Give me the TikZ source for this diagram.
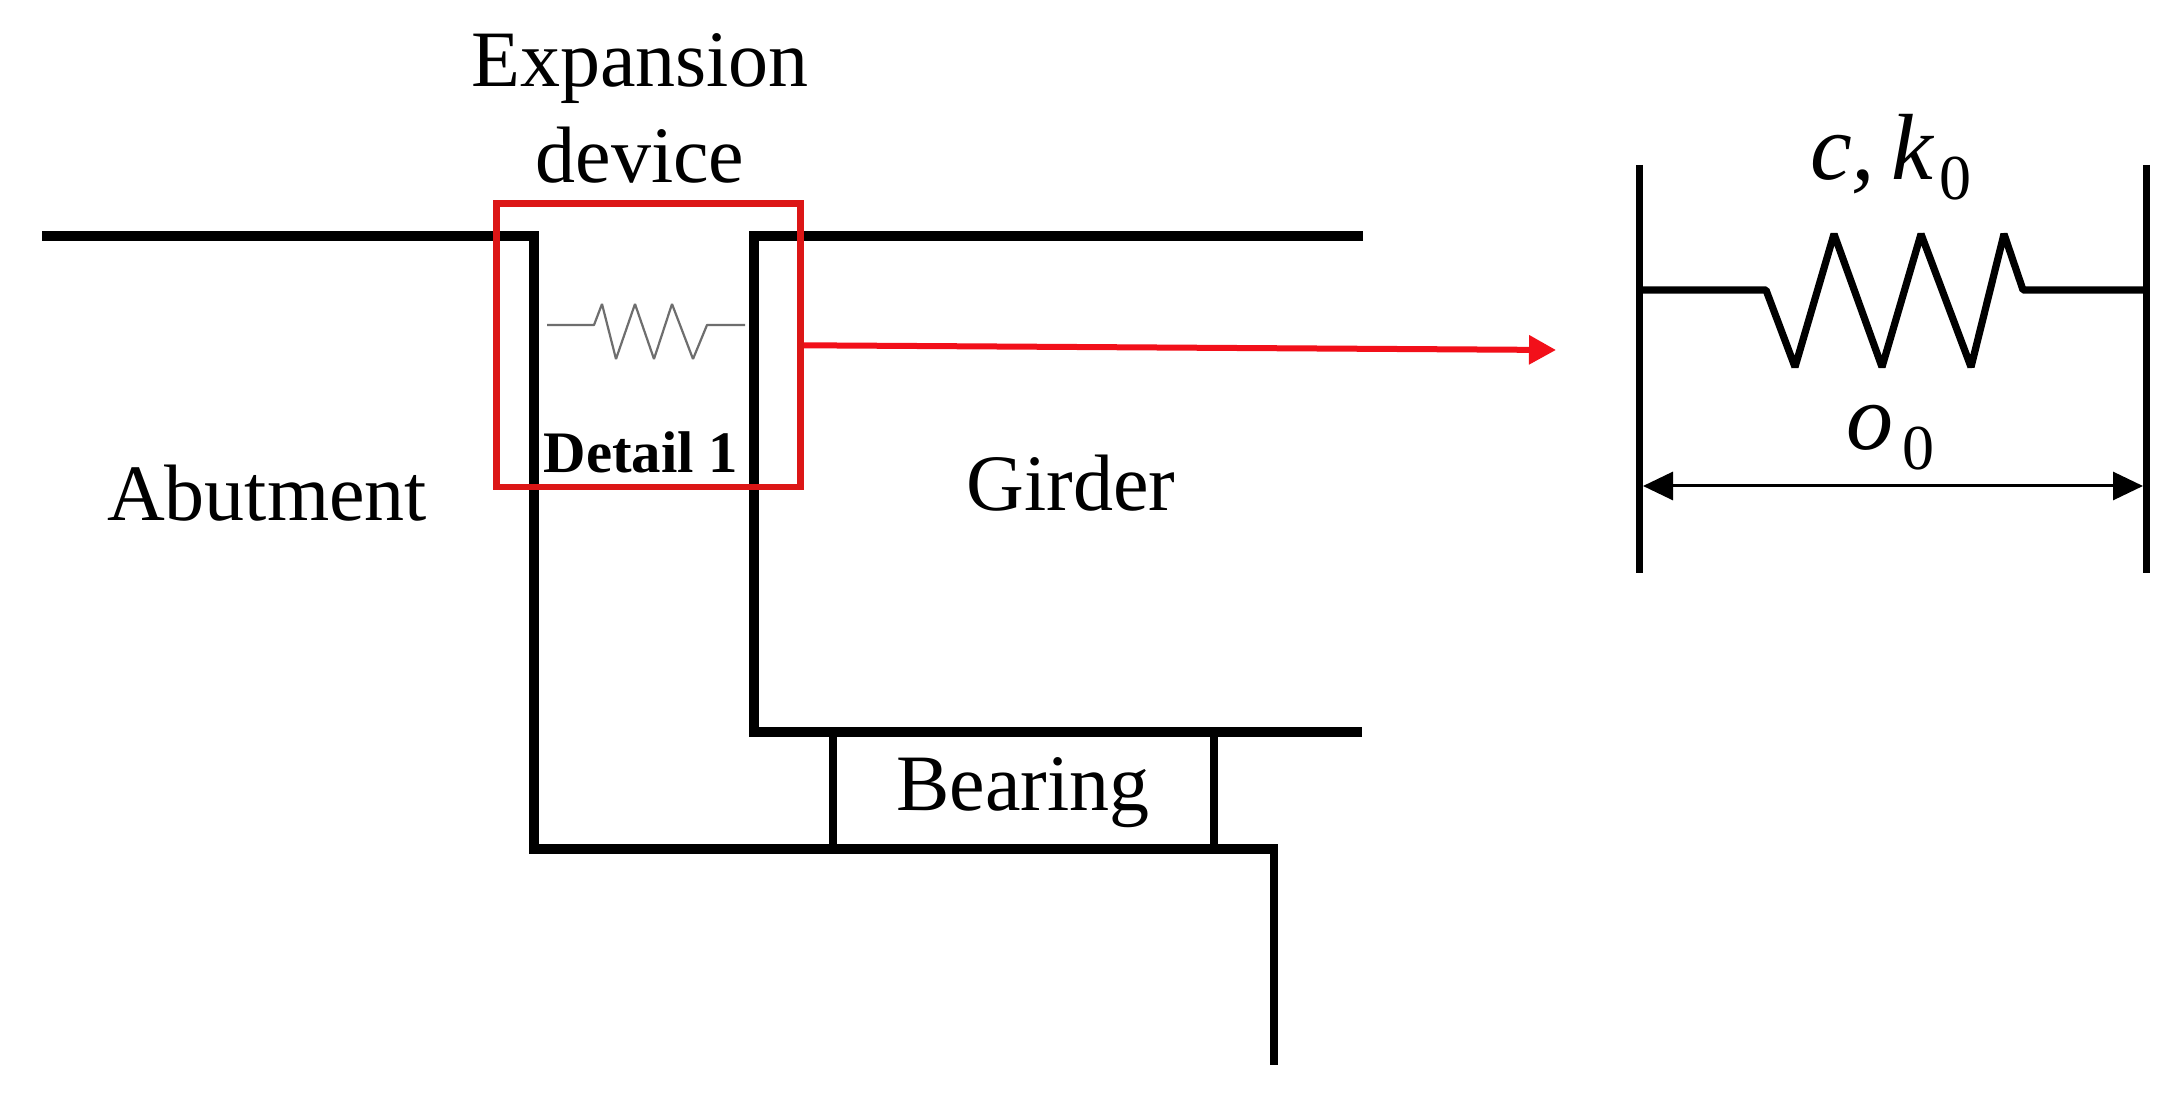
\documentclass[tikz,border=0pt]{standalone}
\usepackage{fontspec}
\setmainfont{Liberation Serif}
\usetikzlibrary{arrows.meta}
\definecolor{boxred}{HTML}{DC1616}
\definecolor{arrowred}{HTML}{F2101A}
\definecolor{springgray}{HTML}{6E6E6E}
\tikzset{
  x=0.5pt,y=-0.5pt,
  struct/.style={draw=black,line width=5.2pt,line cap=butt,line join=miter},
  thinstruct/.style={draw=black,line width=4.4pt,line cap=butt,line join=miter},
  lbl/.style={anchor=base,inner sep=0pt,outer sep=0pt,font=\fontsize{40pt}{40pt}\selectfont},
  detaillbl/.style={anchor=base,inner sep=0pt,outer sep=0pt,font=\fontsize{29.4pt}{30pt}\selectfont\bfseries},
  mathlbl/.style={anchor=base,inner sep=0pt,outer sep=0pt,font=\fontsize{47pt}{47pt}\selectfont\itshape},
  sublbl/.style={anchor=base,inner sep=0pt,outer sep=0pt,font=\fontsize{32pt}{32pt}\selectfont},
  detailbox/.style={draw=boxred,line width=3.3pt,minimum width=152pt,minimum height=141.7pt,inner sep=0pt,fill=none},
}
\begin{document}
\begin{tikzpicture}
\useasboundingbox[fill=white] (0,0) rectangle (2181,1095);
% abutment
\draw[struct] (42,236) -- (534,236) -- (534,849) -- (1278,849);
\draw[thinstruct] (1274,845) -- (1274,1065);
% girder
\draw[struct] (1363,236) -- (754,236) -- (754,732) -- (1362,732);
% bearing
\draw[thinstruct] (833,732) -- (833,849);
\draw[thinstruct] (1214,732) -- (1214,849);
% small spring
\draw[springgray,line width=1.1pt,line join=bevel] (547,325) -- (594,325) -- (602,304) -- (616,359) -- (635,304) -- (654,359) -- (672,304) -- (693,359) -- (707,325) -- (745,325);
% labels
\node[lbl] (expansion) at (640,87) {Expansion};
\node[lbl] (devicelbl) at (640,183) {device};
\node[lbl] (abutment) at (267,521) {Abutment};
\node[lbl] (girder) at (1071,511) {Girder};
\node[lbl] (bearing) at (1023,811) {Bearing};
\node[detaillbl] (detaillabel) at (641,473) {Detail 1};
% red detail box and arrow
\node[detailbox] (detail) at (648.5,345.3) {};
\coordinate (target) at (1556,350);
\draw[arrowred,line width=3pt,-{Triangle[length=13.5pt,width=14pt]}] (detail.east) -- (target);
% spring model
\coordinate (wlt) at (1639,165); \coordinate (wlb) at (1639,573);
\coordinate (wrt) at (2146,165); \coordinate (wrb) at (2146,573);
\draw[black,line width=3.5pt] (wlt) -- (wlb);
\draw[black,line width=3.5pt] (wrt) -- (wrb);
\draw[black,line width=3.6pt,line join=bevel] (1639,290) -- (1766,290) -- (1795,367) -- (1834,234) -- (1882,367) -- (1921,234) -- (1971,367) -- (2004,234) -- (2023,290) -- (2146,290);
\coordinate (dl) at (1643,486); \coordinate (dr) at (2143,486);
\draw[black,line width=1.5pt,{Triangle[length=15pt,width=14pt]}-{Triangle[length=15pt,width=14pt]}] (dl) -- (dr);
\node[mathlbl,anchor=base west] (c) at (1810,180) {c,};
\node[mathlbl] (k) at (1912,180) {k};
\node[sublbl] (ksub) at (1955,200) {0};
\node[mathlbl] (o) at (1870,450) {o};
\node[sublbl] (osub) at (1918,470) {0};
\end{tikzpicture}
\end{document}
